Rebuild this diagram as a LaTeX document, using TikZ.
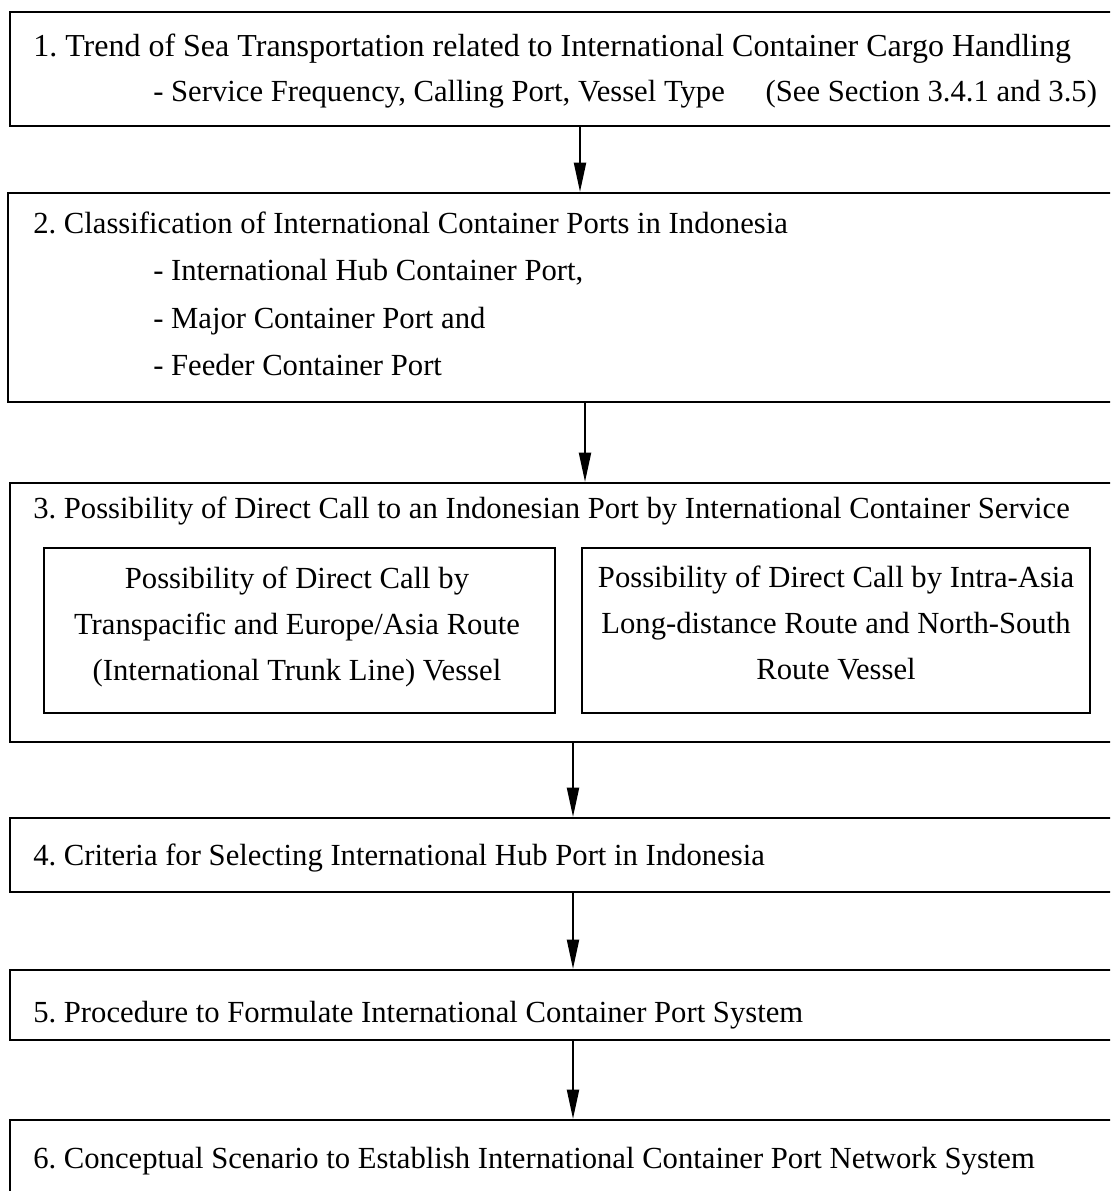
\documentclass[tikz,border=0pt]{standalone}
\usepackage{fontspec}
\setmainfont{Liberation Serif}
\usetikzlibrary{arrows.meta,fit}
\begin{document}
\frenchspacing
\begin{tikzpicture}[x=0.75pt,y=-0.75pt,
  box/.style={draw=black,line width=1.6pt,inner sep=0pt},
  subbox/.style={draw=black,line width=1.3pt,inner sep=0pt},
  txt/.style={inner sep=0pt,anchor=mid west,font=\fontsize{23}{28}\selectfont},
  bigtxt/.style={txt,font=\fontsize{24}{29}\selectfont},
  ctxt/.style={inner sep=0pt,align=center,font=\fontsize{23}{34.5}\selectfont},
  flow/.style={line width=1.6pt,-{Triangle[length=22pt,width=9pt]}}]
\useasboundingbox (0,0) rectangle (1110,1191);
\clip (0,0) rectangle (1110,1191);

% outer step boxes (right side runs past the page edge)
\node[box,fit={(10,12) (1125,126)}] (b1) {};
\node[box,fit={(8,193) (1125,402)}] (b2) {};
\node[box,fit={(10,483) (1125,742)}] (b3) {};
\node[box,fit={(10,818) (1125,892)}] (b4) {};
\node[box,fit={(10,970) (1125,1040)}] (b5) {};
\node[box,fit={(10,1120) (1125,1230)}] (b6) {};

% inner boxes of step 3
\node[subbox,fit={(44,548) (555,713)}] (b3l) {};
\node[subbox,fit={(582,548) (1090,713)}] (b3r) {};

% texts
\node[bigtxt] (t1a) at (33,53) {1. Trend of Sea Transportation related to International Container Cargo Handling};
\node[txt] (t1b) at (153,98) {- Service Frequency, Calling Port, Vessel Type\hspace{1.33em}(See Section 3.4.1 and 3.5)};

\node[txt] (t2a) at (33,230) {2. Classification of International Container Ports in Indonesia};
\node[txt] (t2b) at (153,277) {- International Hub Container Port,};
\node[txt] (t2c) at (153,325) {- Major Container Port and};
\node[txt] (t2d) at (153,372) {- Feeder Container Port};

\node[txt] (t3a) at (33,515) {3. Possibility of Direct Call to an Indonesian Port by International Container Service};
\node[ctxt] (t3l) at (297,627) {Possibility of Direct Call by\\Transpacific and Europe/Asia Route\\(International Trunk Line) Vessel};
\node[ctxt] (t3r) at (836,623) {Possibility of Direct Call by Intra-Asia\\Long-distance Route and North-South\\Route Vessel};

\node[txt] (t4) at (33,862) {4. Criteria for Selecting International Hub Port in Indonesia};
\node[txt] (t5) at (33,1019) {5. Procedure to Formulate International Container Port System};
\node[txt] (t6) at (33,1165) {6. Conceptual Scenario to Establish International Container Port Network System};

% connector columns
\coordinate (c12) at (580,0);
\coordinate (c23) at (585,0);
\coordinate (c34) at (573,0);

% connectors
\draw[flow] (b1.south -| c12) -- (b2.north -| c12);
\draw[flow] (b2.south -| c23) -- (b3.north -| c23);
\draw[flow] (b3.south -| c34) -- (b4.north -| c34);
\draw[flow] (b4.south -| c34) -- (b5.north -| c34);
\draw[flow] (b5.south -| c34) -- (b6.north -| c34);
\end{tikzpicture}
\end{document}
